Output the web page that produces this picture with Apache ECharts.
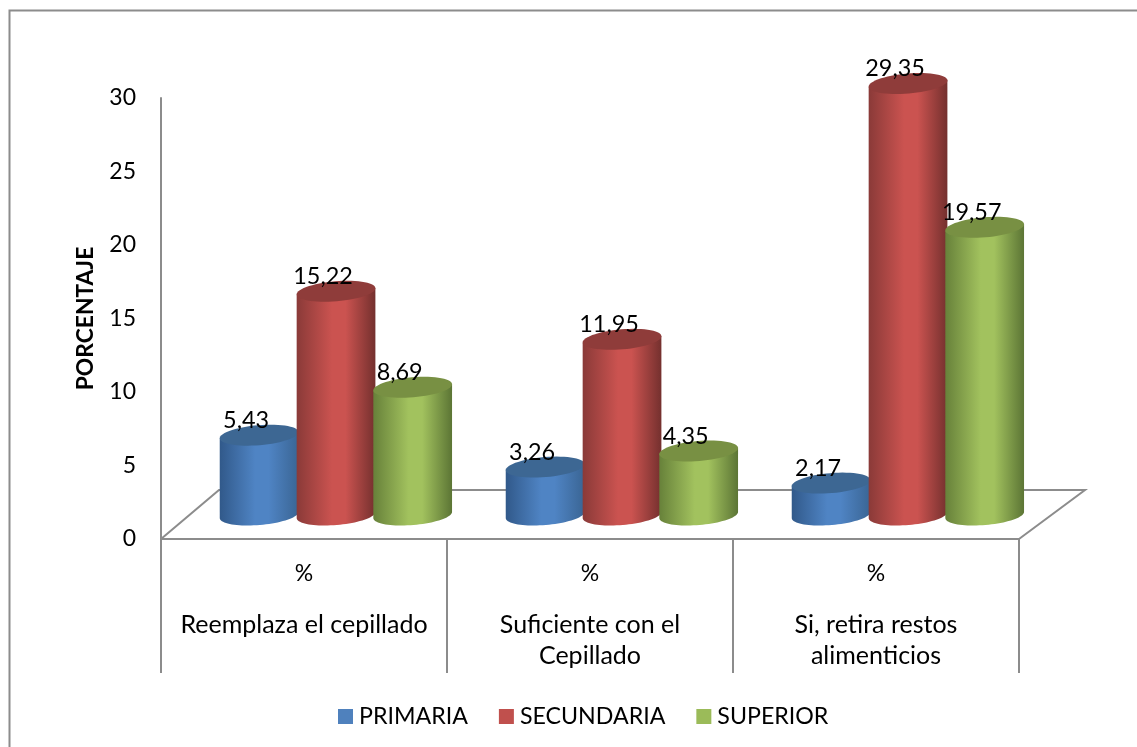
<!DOCTYPE html>
<html>
<head>
<meta charset="utf-8">
<style>html,body{margin:0;padding:0;background:#fff}#chart{width:1137px;height:747px}</style>
<script src="https://cdn.jsdelivr.net/npm/echarts@6/dist/echarts.min.js"></script>
</head>
<body>
<div id="chart"></div>
<script>
var categories = ['Reemplaza el cepillado', 'Suficiente con el\nCepillado', 'Si, retira restos\nalimenticios'];
var unitLabel = '%';
var primaria = [5.43, 3.26, 2.17];
var secundaria = [15.22, 11.95, 29.35];
var superior = [8.69, 4.35, 19.57];
var seriesNames = ['PRIMARIA', 'SECUNDARIA', 'SUPERIOR'];
var yTicks = [0, 5, 10, 15, 20, 25, 30];

var FONT = 'Lato';
var LINE = '#8c8c8c';
var depthX = 58, depthY = 49;         // oblique floor depth
var baseLift = 24;                    // cylinder base sits this far above the front edge
var RX = 39.5, RY = 10, TILT = -4.8 * Math.PI / 180;

var palettes = [
  { flat: '#4f81bd', top: '#3d6793', edge0: '#31598a', mid: '#4f84c4', edge1: '#3a6594' },
  { flat: '#c0504d', top: '#8f3c3a', edge0: '#8a3a38', mid: '#cb5350', edge1: '#74302e' },
  { flat: '#9bbb59', top: '#789043', edge0: '#67813a', mid: '#a2c25e', edge1: '#5c7535' }
];
var slotOffset = [-0.157, 0.112, 0.38];

function ellipsePoint(cx, cy, t) {
  var x = RX * Math.cos(t), y = RY * Math.sin(t);
  return [cx + x * Math.cos(TILT) - y * Math.sin(TILT), cy + x * Math.sin(TILT) + y * Math.cos(TILT)];
}
function arc(cx, cy, from, to, n) {
  var pts = [];
  for (var i = 0; i <= n; i++) pts.push(ellipsePoint(cx, cy, from + (to - from) * i / n));
  return pts;
}
function fmt(v) { return v.toFixed(2).replace('.', ','); }

function cylinderRenderer(idx) {
  var p = palettes[idx];
  return function (params, api) {
    var v = api.value(1);
    var c = api.coord([api.value(0), v]);
    var zero = api.coord([api.value(0), 0]);
    var band = api.size([1, 0])[0];
    var cx = c[0] + band * slotOffset[idx];
    var topY = c[1] - baseLift, botY = zero[1] - baseLift;
    var side = [ellipsePoint(cx, topY, Math.PI)]
      .concat(arc(cx, botY, Math.PI, 0, 40))
      .concat([ellipsePoint(cx, topY, 0)]);
    var gradient = new echarts.graphic.LinearGradient(0, 0, 1, 0, [
      { offset: 0, color: p.edge0 }, { offset: 0.45, color: p.mid },
      { offset: 0.62, color: p.mid }, { offset: 1, color: p.edge1 }
    ]);
    return {
      type: 'group',
      children: [
        { type: 'polygon', shape: { points: side }, style: { fill: gradient } },
        { type: 'polygon', shape: { points: arc(cx, topY, 0, 2 * Math.PI, 60) }, style: { fill: p.top } },
        { type: 'text', style: { x: cx - 13, y: topY - 15, text: fmt(v), fill: '#000',
            font: '23.4px ' + FONT, align: 'center', verticalAlign: 'middle' } }
      ]
    };
  };
}

function floorRenderer(params, api) {
  var a = api.coord([0, 0]), band = api.size([1, 0])[0];
  var left = a[0] - band / 2, right = left + band * categories.length, y = a[1];
  return {
    type: 'polyline',
    shape: { points: [[left, y], [left + depthX, y - depthY], [right + depthX + 8, y - depthY], [right, y]] },
    style: { fill: null, stroke: LINE, lineWidth: 2 }
  };
}

function seriesOf(name, values, idx) {
  return {
    type: 'custom', name: name, renderItem: cylinderRenderer(idx), clip: false,
    itemStyle: { color: palettes[idx].flat },
    encode: { x: 0, y: 1 },
    data: values.map(function (v, i) { return [i, v]; })
  };
}

var chart = echarts.init(document.getElementById('chart'), null, { renderer: 'canvas' });
chart.setOption({
  animation: false,
  backgroundColor: '#fff',
  textStyle: { fontFamily: FONT },
  graphic: [{
    type: 'rect', silent: true, z: -10,
    shape: { x: 9.5, y: 10.5, width: 1300, height: 900 },
    style: { fill: null, stroke: '#8c8c8c', lineWidth: 2 }
  }],
  grid: { left: 161, right: 118, top: 98, height: 441, containLabel: false },
  legend: {
    left: 333, top: 700, itemWidth: 15, itemHeight: 15, itemGap: 31, icon: 'rect',
    textStyle: { fontSize: 23.2, color: '#000', fontFamily: FONT, padding: [0, 0, 0, 1] },
    data: seriesNames
  },
  xAxis: {
    type: 'category',
    data: categories,
    axisLine: { show: true, lineStyle: { color: LINE, width: 2 } },
    axisTick: { show: true, length: 134, alignWithLabel: false, lineStyle: { color: LINE, width: 2 } },
    axisLabel: {
      interval: 0, margin: -1, color: '#000', fontFamily: FONT,
      formatter: function (value) {
        var lines = value.split('\n');
        return '{p|' + unitLabel + '}\n' + lines.map(function (l) { return '{n|' + l + '}'; }).join('\n');
      },
      rich: {
        p: { fontSize: 23, lineHeight: 71, fontFamily: FONT, color: '#000' },
        n: { fontSize: 25, lineHeight: 31, fontFamily: FONT, color: '#000' }
      }
    }
  },
  yAxis: {
    type: 'value', min: yTicks[0], max: yTicks[yTicks.length - 1], interval: yTicks[1] - yTicks[0],
    name: 'PORCENTAJE', nameLocation: 'middle', nameGap: 64, nameRotate: 90,
    nameTextStyle: { fontSize: 22.8, fontWeight: 'bold', color: '#000', fontFamily: FONT },
    splitLine: { show: false },
    axisLine: { show: true, lineStyle: { color: LINE, width: 2 } },
    axisTick: { show: false },
    axisLabel: { fontSize: 23, color: '#000', margin: 25, fontFamily: FONT }
  },
  series: [
    { type: 'custom', renderItem: floorRenderer, silent: true, clip: false, z: 1, data: [[0, 0]], encode: { x: 0, y: 1 } },
    seriesOf(seriesNames[0], primaria, 0),
    seriesOf(seriesNames[1], secundaria, 1),
    seriesOf(seriesNames[2], superior, 2)
  ]
});
</script>
</body>
</html>
